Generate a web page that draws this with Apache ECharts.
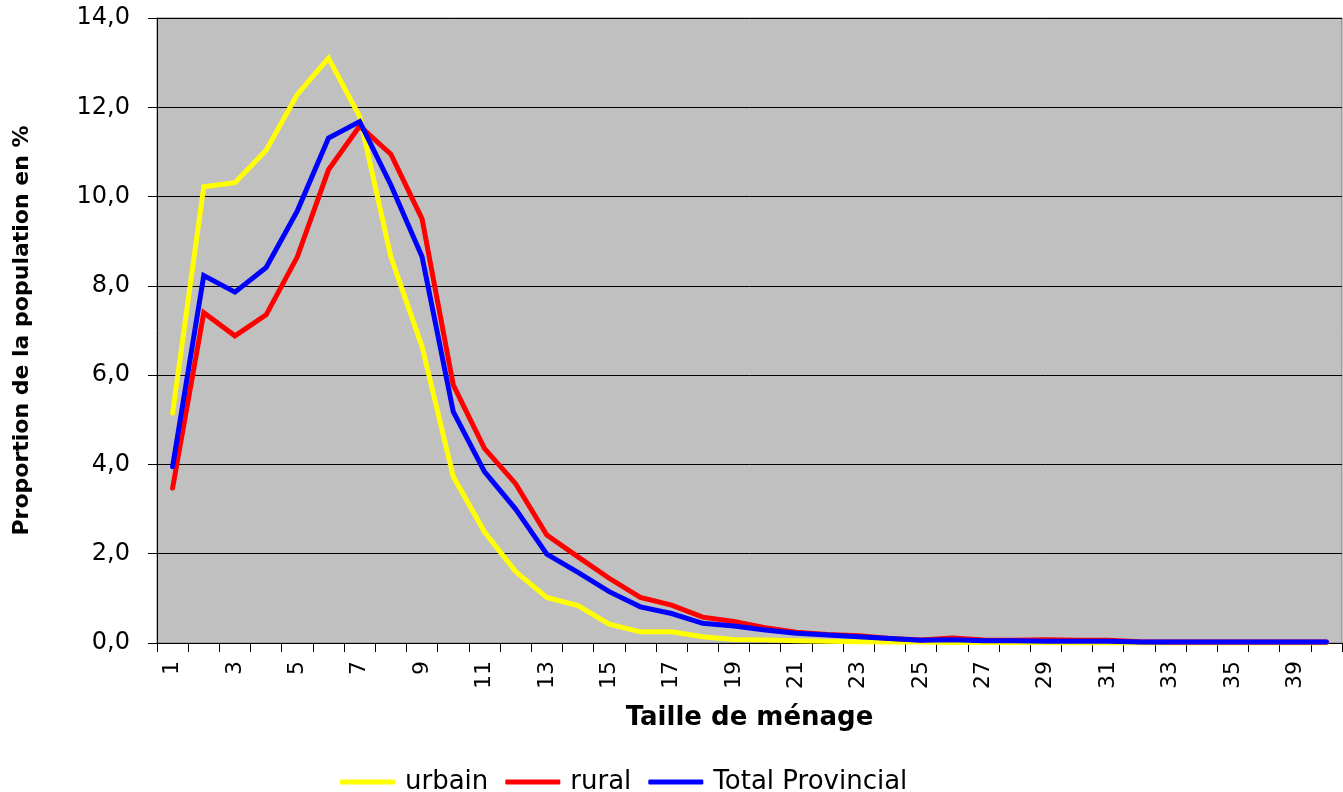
<!DOCTYPE html>
<html>
<head>
<meta charset="utf-8">
<script src="https://cdn.jsdelivr.net/npm/echarts@6/dist/echarts.min.js"></script>
<style>
  html, body { margin: 0; padding: 0; background: #fff; }
  #main { width: 1343px; height: 792px; }
</style>
</head>
<body>
<div id="main"></div>
<script>
const chart = echarts.init(document.getElementById("main"));

// tailles de ménage (37 et 38 absents)
const tailles = ["1", "2", "3", "4", "5", "6", "7", "8", "9", "10",
    "11", "12", "13", "14", "15", "16", "17", "18", "19", "20",
    "21", "22", "23", "24", "25", "26", "27", "28", "29", "30",
    "31", "32", "33", "34", "35", "36", "39", "40"];

const urbain = [5.15, 10.22, 10.31, 11.04, 12.29, 13.10, 11.79, 8.65, 6.64, 3.73,
    2.49, 1.60, 1.02, 0.84, 0.42, 0.25, 0.25, 0.14, 0.08, 0.07,
    0.05, 0.04, 0.03, 0.02, 0.02, 0.01, 0.01, 0.01, 0.01, 0.00,
    0.00, 0.00, 0.00, 0.00, 0.00, 0.00, 0.00, 0.00];

const rural = [3.47, 7.40, 6.88, 7.35, 8.65, 10.60, 11.58, 10.95, 9.50, 5.78,
    4.36, 3.57, 2.42, 1.93, 1.45, 1.02, 0.85, 0.58, 0.48, 0.34,
    0.24, 0.19, 0.16, 0.10, 0.07, 0.11, 0.07, 0.06, 0.07, 0.06,
    0.06, 0.03, 0.02, 0.02, 0.02, 0.02, 0.02, 0.02];

const total = [3.95, 8.23, 7.86, 8.41, 9.68, 11.31, 11.68, 10.26, 8.65, 5.18,
    3.84, 3.00, 1.99, 1.58, 1.15, 0.81, 0.66, 0.44, 0.38, 0.29,
    0.22, 0.18, 0.14, 0.10, 0.06, 0.07, 0.05, 0.05, 0.04, 0.04,
    0.04, 0.02, 0.02, 0.02, 0.02, 0.02, 0.02, 0.02];

const yTicks = { min: 0, max: 14, step: 2 };

const font = "DejaVu Sans";

function serie(name, data, color) {
    return {
        name: name,
        type: "line",
        data: data,
        symbol: "none",
        itemStyle: { color: color },
        lineStyle: { color: color, width: 5, join: "miter", cap: "round" },
        animation: false
    };
}

const option = {
    backgroundColor: "#ffffff",
    grid: {
        left: 157,
        right: 1,
        top: 18,
        bottom: 149,
        show: true,
        backgroundColor: "#C0C0C0",
        borderColor: "#808080",
        borderWidth: 1
    },
    legend: {
        data: ["urbain", "rural", "Total Provincial"],
        left: 335,
        top: 764,
        icon: "roundRect",
        itemWidth: 55,
        itemHeight: 5,
        itemGap: 17,
        textStyle: { fontFamily: font, fontSize: 26, color: "#000", padding: [0, 0, 0, 5] }
    },
    xAxis: {
        type: "category",
        data: tailles,
        boundaryGap: true,
        name: "Taille de ménage",
        nameLocation: "middle",
        nameGap: 62,
        nameTextStyle: { fontFamily: font, fontSize: 26, fontWeight: "bold", color: "#000" },
        axisLine: { lineStyle: { color: "#000", width: 1 } },
        axisTick: { show: true, interval: 0, length: 9, lineStyle: { color: "#000" } },
        axisLabel: {
            interval: 1,
            rotate: 90,
            margin: 18,
            fontFamily: font,
            fontSize: 22,
            color: "#000"
        },
        splitLine: { show: false }
    },
    yAxis: {
        type: "value",
        min: yTicks.min,
        max: yTicks.max,
        interval: yTicks.step,
        name: "Proportion de la population en %",
        nameLocation: "middle",
        nameRotate: 90,
        nameGap: 124,
        nameTextStyle: { fontFamily: font, fontSize: 22, fontWeight: "bold", color: "#000" },
        axisLine: { show: true, lineStyle: { color: "#000", width: 1 } },
        axisTick: { show: true, length: 9, lineStyle: { color: "#000" } },
        axisLabel: {
            margin: 27,
            fontFamily: font,
            fontSize: 24,
            color: "#000",
            formatter: (v) => v.toFixed(1).replace(".", ",")
        },
        splitLine: { show: true, lineStyle: { color: "#000", width: 1 } }
    },
    series: [
        serie("urbain", urbain, "#FFFF00"),
        serie("rural", rural, "#FF0000"),
        serie("Total Provincial", total, "#0000FF")
    ]
};

chart.setOption(option);

window.onresize = function () {
    chart.resize();
};
</script>
</body>
</html>
